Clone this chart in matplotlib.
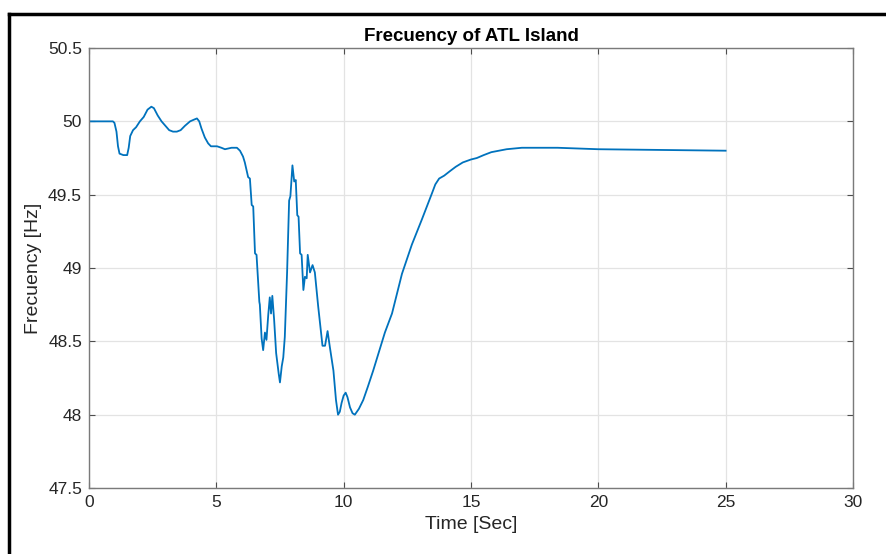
import matplotlib

matplotlib.use("Agg")
import matplotlib.pyplot as plt
from matplotlib.lines import Line2D

plt.rcParams["font.family"] = ["Liberation Sans", "DejaVu Sans"]

# frequency trace (time in s, frequency in Hz)
time_s = [
    0.0, 0.5, 0.94, 1.0, 1.08, 1.14, 1.2, 1.35, 1.5, 1.56, 1.62, 1.73, 1.85,
    2.0, 2.15, 2.3, 2.45, 2.55, 2.7, 2.85, 3.0, 3.15, 3.3, 3.45, 3.6, 3.77,
    3.97, 4.1, 4.24, 4.33, 4.42, 4.55, 4.68, 4.79, 5.03, 5.2, 5.34, 5.6,
    5.81, 5.93, 6.05, 6.12, 6.25, 6.32, 6.39, 6.45, 6.52, 6.58, 6.69, 6.71,
    6.78, 6.84, 6.91, 6.97, 7.04, 7.1, 7.15, 7.2, 7.27, 7.35, 7.4, 7.45, 7.5,
    7.57, 7.63, 7.69, 7.78, 7.86, 7.91, 7.99, 8.06, 8.12, 8.18, 8.23, 8.29,
    8.35, 8.42, 8.48, 8.55, 8.59, 8.68, 8.78, 8.87, 9.0, 9.17, 9.27, 9.37,
    9.46, 9.6, 9.7, 9.78, 9.85, 9.92, 10.0, 10.08, 10.15, 10.25, 10.35,
    10.44, 10.6, 10.77, 10.95, 11.16, 11.62, 11.9, 12.29, 12.68, 13.07,
    13.47, 13.6, 13.75, 13.95, 14.17, 14.4, 14.68, 15.0, 15.23, 15.5, 15.8,
    16.1, 16.4, 17.0, 18.4, 20.0, 22.5, 25.0,
]
freq_hz = [
    50.0, 50.0, 50.0, 49.99, 49.93, 49.83, 49.78, 49.77, 49.77, 49.82, 49.9,
    49.94, 49.96, 50.0, 50.03, 50.08, 50.1, 50.09, 50.04, 50.0, 49.97, 49.94,
    49.93, 49.93, 49.94, 49.97, 50.0, 50.01, 50.02, 50.0, 49.95, 49.89,
    49.85, 49.83, 49.83, 49.82, 49.81, 49.82, 49.82, 49.8, 49.76, 49.72,
    49.62, 49.61, 49.43, 49.42, 49.1, 49.09, 48.77, 48.75, 48.52, 48.44,
    48.56, 48.51, 48.68, 48.8, 48.69, 48.81, 48.65, 48.42, 48.35, 48.28,
    48.22, 48.33, 48.39, 48.53, 48.97, 49.46, 49.49, 49.7, 49.59, 49.6, 49.36,
    49.35, 49.1, 49.09, 48.85, 48.94, 48.93, 49.09, 48.97, 49.02, 48.97,
    48.74, 48.47, 48.47, 48.57, 48.46, 48.3, 48.1, 48.0, 48.02, 48.08, 48.13,
    48.15, 48.12, 48.05, 48.01, 48.0, 48.04, 48.1, 48.19, 48.3, 48.56, 48.69,
    48.96, 49.16, 49.33, 49.51, 49.57, 49.61, 49.63, 49.66, 49.69, 49.72,
    49.74, 49.75, 49.77, 49.79, 49.8, 49.81, 49.82, 49.82, 49.81, 49.805,
    49.8,
]

x_ticks = [0, 5, 10, 15, 20, 25, 30]
y_ticks = [47.5, 48, 48.5, 49, 49.5, 50, 50.5]
y_tick_labels = ["47.5", "48", "48.5", "49", "49.5", "50", "50.5"]

fig = plt.figure(figsize=(8.87, 5.54), dpi=100)
ax = fig.add_axes([0.1003, 0.1191, 0.8613, 0.7942])

ax.plot(time_s, freq_hz, color="#0072BD", linewidth=1.3)

ax.set_xlim(0, 30)
ax.set_ylim(47.5, 50.5)
ax.set_xticks(x_ticks)
ax.set_yticks(y_ticks)
ax.set_yticklabels(y_tick_labels)
ax.grid(True, color="#e3e3e3", linewidth=0.9)
ax.set_axisbelow(True)
ax.tick_params(direction="in", top=True, right=True, length=4,
               colors="#4d4d4d", labelcolor="#262626", labelsize=12.5, pad=5)
for spine in ax.spines.values():
    spine.set_color("#7a7a7a")
    spine.set_linewidth(1.0)

ax.set_title("Frecuency of ATL Island", fontsize=13.5, fontweight="bold", pad=5)
ax.set_xlabel("Time [Sec]", fontsize=14, color="#262626", labelpad=4)
ax.set_ylabel("Frecuency [Hz]", fontsize=14, color="#262626", labelpad=4)

# black frame cut off on the right and bottom
fig.add_artist(Line2D([9 / 887, 1.0], [1 - 14 / 554, 1 - 14 / 554],
                      transform=fig.transFigure, color="black", linewidth=2.5))
fig.add_artist(Line2D([9 / 887, 9 / 887], [0.0, 1 - 14 / 554],
                      transform=fig.transFigure, color="black", linewidth=2.5))

fig.savefig("out.png", dpi=100)
